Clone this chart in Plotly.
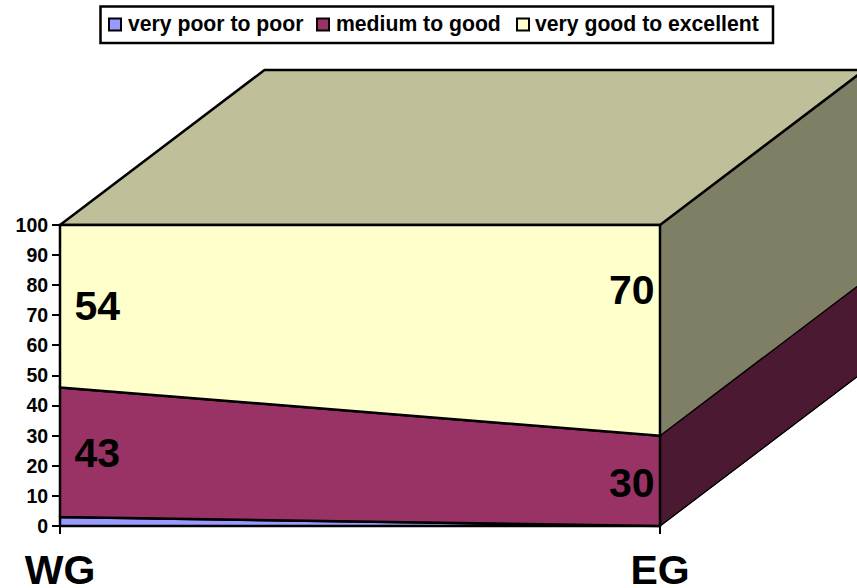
import plotly.graph_objects as go

categories = ["WG", "EG"]
series_names = ["very poor to poor", "medium to good", "very good to excellent"]
very_poor = [3, 0]
medium = [43, 30]
very_good = [54, 70]
y_ticks = list(range(0, 101, 10))

FONT = "Liberation Sans, Arial, sans-serif"
W, H = 857, 588
PX_X = 600.0          # px per category step
PX_Y = 3.01           # px per value unit
X0, Y0 = 60, 526      # pixel position of the origin
DX = 204.5 / PX_X     # depth of the 3D box in axis units
DY = 155 / PX_Y

fills = ["#9999FF", "#993366", "#FFFFCC"]
side_fills = ["#4C4C80", "#4C1933", "#7F7F66"]
TOP_FILL = "#BFBF99"

xs = [0, 1]
low = [0, 0]
cum = []
for vals in (very_poor, medium, very_good):
    high = [a + b for a, b in zip(low, vals)]
    cum.append((list(low), high))
    low = high

fig = go.Figure()


def poly(x, y, fill, width=0.0):
    fig.add_trace(go.Scatter(x=x, y=y, mode="lines", fill="toself", fillcolor=fill,
                             line=dict(color="#000000", width=width), hoverinfo="skip",
                             showlegend=False))


# side faces
for i, (lo, hi) in enumerate(cum):
    poly([1, 1, 1 + DX, 1 + DX, 1], [lo[1], hi[1], hi[1] + DY, lo[1] + DY, lo[1]], side_fills[i], 1.2)
# top face
top = cum[-1][1]
poly([0, 1, 1 + DX, DX, 0], [top[0], top[1], top[1] + DY, top[0] + DY, top[0]], TOP_FILL, 2.5)
# front faces
for i, (lo, hi) in enumerate(cum):
    poly([0, 1, 1, 0, 0], [lo[0], lo[1], hi[1], hi[0], lo[0]], fills[i], 2.5)

# data labels
label_x = [[0.062, 0.953], [0.062, 0.953]]
label_y = [[23, 13], [72, 77]]
for vals, lx, ly in zip((medium, very_good), label_x, label_y):
    fig.add_trace(go.Scatter(x=lx, y=ly, mode="text", text=[str(v) for v in vals],
                             textposition="middle center",
                             textfont=dict(family=FONT, size=41, color="#000000", weight="bold"),
                             hoverinfo="skip", showlegend=False))

# legend (drawn to keep the reference's tight spacing)
legend_marker_px = [115, 323, 523]
legend_text_px = [128, 336, 535]
legend_y_px = 24.5
shapes = [dict(type="rect", xref="paper", yref="paper", x0=100.5 / W, x1=773 / W,
               y0=1 - 43 / H, y1=1 - 6.5 / H, line=dict(color="#000000", width=2.5),
               fillcolor="#FFFFFF")]
annotations = []
for name, color, mx, tx in zip(series_names, fills, legend_marker_px, legend_text_px):
    shapes.append(dict(type="rect", xref="paper", yref="paper", x0=(mx - 6) / W, x1=(mx + 6) / W,
                       y0=1 - (legend_y_px + 6) / H, y1=1 - (legend_y_px - 6) / H,
                       line=dict(color="#000000", width=2), fillcolor=color))
    annotations.append(dict(text=name, xref="paper", yref="paper", x=tx / W, y=1 - legend_y_px / H,
                            xanchor="left", yanchor="middle", showarrow=False, xshift=-1,
                            borderpad=0,
                            font=dict(family=FONT, size=21.2, color="#000000", weight="bold")))

fig.update_layout(
    width=W, height=H, autosize=False,
    margin=dict(l=0, r=0, t=0, b=0, pad=0, autoexpand=False),
    paper_bgcolor="#FFFFFF", plot_bgcolor="#FFFFFF",
    showlegend=False, shapes=shapes, annotations=annotations,
    xaxis=dict(range=[-X0 / PX_X, (W - X0) / PX_X], domain=[0, 1], anchor="free",
               position=(H - Y0) / H, tickmode="array", tickvals=xs, ticktext=categories,
               ticks="outside", ticklen=7, tickwidth=2, tickcolor="#000000",
               showgrid=False, zeroline=False, showline=False, ticklabelstandoff=1,
               automargin=False,
               tickfont=dict(family=FONT, size=41, color="#000000", weight="bold")),
    yaxis=dict(range=[-(H - Y0) / PX_Y, Y0 / PX_Y], domain=[0, 1], anchor="free",
               position=X0 / W, tickmode="array", tickvals=y_ticks,
               ticktext=[str(v) for v in y_ticks],
               ticks="outside", ticklen=8, tickwidth=2, tickcolor="#000000",
               showgrid=False, zeroline=False, showline=False, automargin=False,
               tickfont=dict(family=FONT, size=19.5, color="#000000", weight="bold")),
)

fig.write_html("out.html", config={"displayModeBar": False},
               post_script="document.body.style.margin='0';document.body.style.overflow='hidden';")
